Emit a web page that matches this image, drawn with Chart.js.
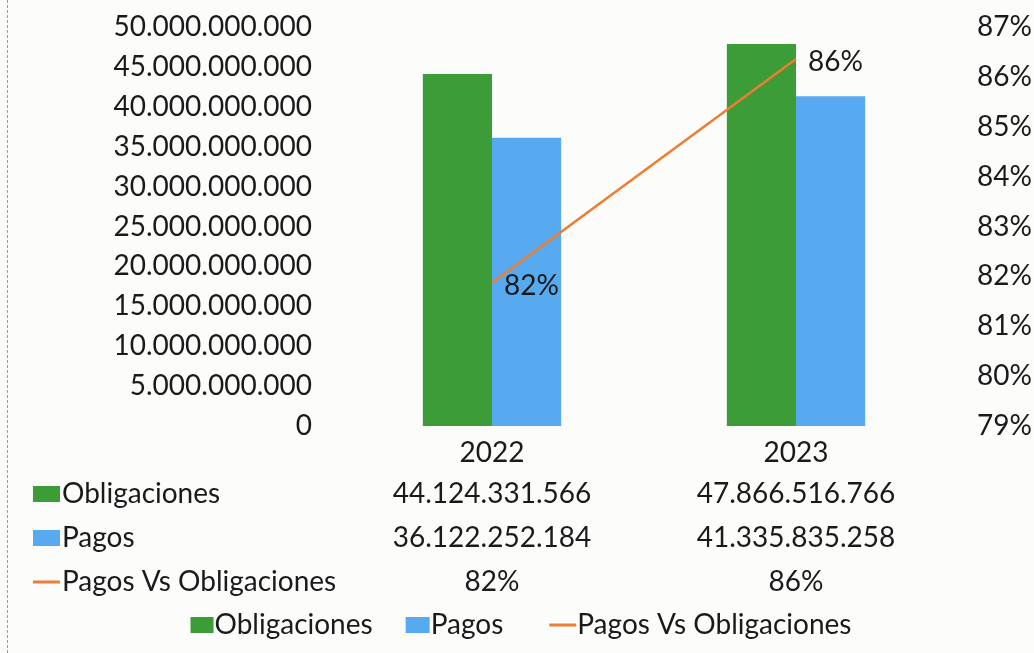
<!DOCTYPE html>
<html lang="es">
<head>
<meta charset="utf-8">
<title>Obligaciones vs Pagos</title>
<script src="https://cdn.jsdelivr.net/npm/chart.js@4.4.1/dist/chart.umd.min.js"></script>
<style>
    html, body { margin: 0; padding: 0; background: #fcfcfb; }
    #wrap { position: relative; width: 1034px; height: 653px; }
</style>
</head>
<body>
<div id="wrap"><canvas id="chart"></canvas></div>
<script>
// Datos
const years = ['2022', '2023'];
const obligaciones = [44124331566, 47866516766];
const pagos = [36122252184, 41335835258];
const pagosVsObligaciones = [0.8187, 0.8636];

// Ejes
const leftAxisMin = 0;
const leftAxisMax = 50000000000;
const leftAxisStep = 5000000000;
const rightAxisMin = 0.79;
const rightAxisMax = 0.87;
const rightAxisStep = 0.01;

const colors = {
    green: '#3b9c38',
    blue: '#58aaf0',
    orange: '#ee7d33',
    text: '#1a1a1a',
};
const fontFamily = 'Lato, "Open Sans", sans-serif';
const fontSize = 28;

const formatNumber = (v) => Math.round(v).toString().replace(/\B(?=(\d{3})+(?!\d))/g, '.');
const formatPercent = (v) => Math.round(v * 100) + '%';

// Fondo + tabla de datos + leyenda inferior (estilo Excel)
const excelExtras = {
    id: 'excelExtras',
    beforeDraw(chart) {
        const { ctx, width, height } = chart;
        ctx.save();
        ctx.fillStyle = '#fcfcfb';
        ctx.fillRect(0, 0, width, height);
        ctx.strokeStyle = '#9a9a9a';
        ctx.setLineDash([3, 2]);
        ctx.beginPath();
        ctx.moveTo(7.5, 0);
        ctx.lineTo(7.5, height);
        ctx.stroke();
        ctx.restore();
    },
    afterDatasetsDraw(chart) {
        const { ctx } = chart;
        // etiquetas de la linea
        const lineIndex = chart.data.datasets.findIndex(d => d.type === 'line');
        const meta = chart.getDatasetMeta(lineIndex);
        ctx.save();
        ctx.font = `${fontSize}px ${fontFamily}`;
        ctx.fillStyle = colors.text;
        ctx.textBaseline = 'middle';
        ctx.textAlign = 'left';
        meta.data.forEach((pt, i) => {
            ctx.fillText(formatPercent(chart.data.datasets[lineIndex].data[i]), pt.x + 12, pt.y + 3);
        });
        ctx.restore();
    },
    afterDraw(chart) {
        const { ctx, scales: { x }, chartArea } = chart;
        const datasets = chart.data.datasets;
        ctx.save();
        ctx.font = `${fontSize}px ${fontFamily}`;
        ctx.fillStyle = colors.text;
        ctx.textBaseline = 'middle';

        const drawKey = (ds, kx, cy, w) => {
            if (ds.type === 'line') {
                ctx.strokeStyle = ds.borderColor;
                ctx.lineWidth = 3;
                ctx.beginPath();
                ctx.moveTo(kx, cy);
                ctx.lineTo(kx + w, cy);
                ctx.stroke();
            } else {
                ctx.fillStyle = ds.backgroundColor;
                ctx.fillRect(kx, cy - 8, w, 16);
            }
            ctx.fillStyle = colors.text;
        };

        // tabla de datos
        const rowTop = chartArea.bottom + 68;
        const rowGap = 44;
        datasets.forEach((ds, r) => {
            const cy = rowTop + r * rowGap;
            drawKey(ds, 33, cy, 27);
            ctx.textAlign = 'left';
            ctx.fillText(ds.label, 62, cy);
            ctx.textAlign = 'center';
            ds.data.forEach((v, i) => {
                const txt = ds.type === 'line' ? formatPercent(v) : formatNumber(v);
                ctx.fillText(txt, x.getPixelForValue(i), cy);
            });
        });

        // leyenda inferior
        const legendY = chartArea.bottom + 199;
        const keyW = [23, 24, 27];
        const gaps = [33, 46];
        const widths = datasets.map((ds, i) => keyW[i] + 1 + ctx.measureText(ds.label).width);
        const total = widths.reduce((a, b) => a + b, 0) + gaps.reduce((a, b) => a + b, 0);
        let lx = 521 - total / 2;
        ctx.textAlign = 'left';
        datasets.forEach((ds, i) => {
            drawKey(ds, lx, legendY, keyW[i]);
            ctx.fillText(ds.label, lx + keyW[i] + 1, legendY);
            lx += widths[i] + (gaps[i] || 0);
        });
        ctx.restore();
    },
};

const tickFont = { family: fontFamily, size: fontSize };
const noScalePadding = (scale) => {
    scale.paddingTop = 0;
    scale.paddingBottom = 0;
};

new Chart(document.getElementById('chart'), {
    data: {
        labels: years,
        datasets: [
            {
                type: 'bar',
                label: 'Obligaciones',
                data: obligaciones,
                backgroundColor: colors.green,
                yAxisID: 'y',
                order: 2,
                barPercentage: 1,
                categoryPercentage: 0.455,
            },
            {
                type: 'bar',
                label: 'Pagos',
                data: pagos,
                backgroundColor: colors.blue,
                yAxisID: 'y',
                order: 2,
                barPercentage: 1,
                categoryPercentage: 0.455,
            },
            {
                type: 'line',
                label: 'Pagos Vs Obligaciones',
                data: pagosVsObligaciones,
                borderColor: colors.orange,
                backgroundColor: colors.orange,
                borderWidth: 2.5,
                pointRadius: 0,
                yAxisID: 'y1',
                order: 0,
            },
        ],
    },
    options: {
        responsive: true,
        maintainAspectRatio: false,
        animation: false,
        layout: { autoPadding: false, padding: { top: 27, left: 0, right: 0, bottom: 0 } },
        plugins: {
            legend: { display: false },
            tooltip: { enabled: false },
        },
        scales: {
            x: {
                grid: { display: false, drawTicks: false },
                border: { display: false },
                ticks: { font: tickFont, color: colors.text, padding: 10 },
                afterFit(scale) { scale.height = 227; },
            },
            y: {
                position: 'left',
                min: leftAxisMin,
                max: leftAxisMax,
                grid: { display: false, drawTicks: false },
                border: { display: false },
                ticks: {
                    stepSize: leftAxisStep,
                    font: tickFont,
                    color: colors.text,
                    padding: 28,
                    callback: (v) => formatNumber(v),
                },
                afterFit(scale) { scale.width = 340; noScalePadding(scale); },
            },
            y1: {
                position: 'right',
                min: rightAxisMin,
                max: rightAxisMax,
                grid: { display: false, drawTicks: false },
                border: { display: false },
                ticks: {
                    stepSize: rightAxisStep,
                    font: tickFont,
                    color: colors.text,
                    padding: 29,
                    callback: (v) => formatPercent(v),
                },
                afterFit(scale) { scale.width = 86; noScalePadding(scale); },
            },
        },
    },
    plugins: [excelExtras],
});
</script>
</body>
</html>
